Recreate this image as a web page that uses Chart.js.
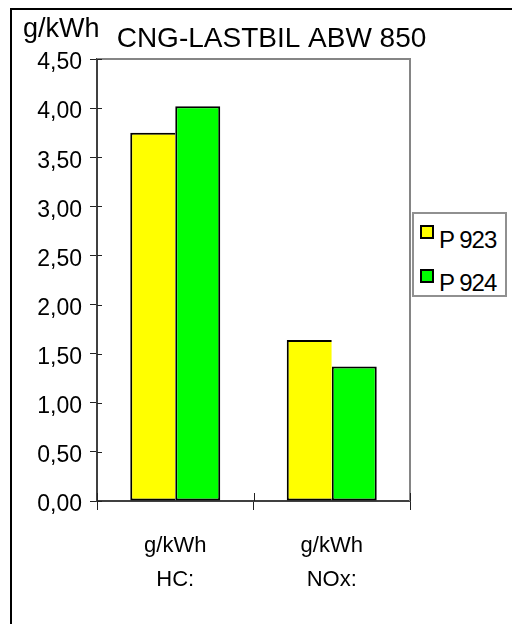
<!DOCTYPE html>
<html>
<head>
<meta charset="utf-8">
<script src="https://cdn.jsdelivr.net/npm/chart.js@4.4.1/dist/chart.umd.min.js"></script>
<style>
  html, body { margin: 0; padding: 0; background: #fff; }
  #wrap { position: relative; width: 512px; height: 624px; overflow: hidden; font-family: "Liberation Sans", Arial, sans-serif; }
  #frame { position: absolute; left: 10px; top: 8px; width: 600px; height: 700px; border-top: 2px solid #000; border-left: 2px solid #000; }
  #chart { position: absolute; left: 0; top: 0; }
  #legend { position: absolute; left: 412px; top: 212px; width: 95px; height: 85px; box-sizing: border-box; border: 2px solid #909090; background: #fff; }
  .sw { position: absolute; width: 14px; height: 14px; box-sizing: border-box; border: 2px solid #000; }
  .lt { position: absolute; font-size: 24px; line-height: 24px; letter-spacing: -1px; color: #000; white-space: nowrap; }
</style>
</head>
<body>
<div id="wrap">
  <div id="frame"></div>
  <canvas id="chart" width="512" height="624"></canvas>
  <div id="legend"></div>
</div>
<script>
const categories = [['g/kWh', 'HC:'], ['g/kWh', 'NOx:']];
const seriesNames = ['P 923', 'P 924'];
const seriesColors = ['#ffff00', '#00ff00'];
const p923 = [3.75, 1.64];
const p924 = [4.02, 1.37];
const yMin = 0;
const yMax = 4.5;
const yStep = 0.5;
const chartTitle = 'CNG-LASTBIL ABW 850';
const unitLabel = 'g/kWh';

Chart.defaults.font.family = '"Liberation Sans", Arial, sans-serif';
Chart.defaults.color = '#000';

const formatTick = (value) => Number(value).toFixed(2).replace('.', ',');

// frame of the plot area, inner tick halves, title and unit
const framePlugin = {
  id: 'frame',
  afterDraw(chart) {
    const { ctx, chartArea } = chart;
    const { left, right, top, bottom } = chartArea;
    const xScale = chart.scales.x;
    const yScale = chart.scales.y;
    ctx.save();

    ctx.strokeStyle = '#858585';
    ctx.lineWidth = 2;
    ctx.beginPath();
    ctx.moveTo(left, top);
    ctx.lineTo(right, top);
    ctx.lineTo(right, bottom);
    ctx.stroke();

    ctx.strokeStyle = '#222';
    ctx.lineWidth = 1;
    ctx.beginPath();
    yScale.ticks.forEach((t, i) => {
      const y = Math.round(yScale.getPixelForTick(i)) + 0.5;
      ctx.moveTo(left, y);
      ctx.lineTo(left + 5, y);
    });
    const n = xScale.ticks.length;
    const bounds = [left];
    for (let i = 0; i < n - 1; i++) {
      bounds.push((xScale.getPixelForTick(i) + xScale.getPixelForTick(i + 1)) / 2);
    }
    bounds.push(right);
    bounds.forEach((bx) => {
      const x = Math.round(bx) + 0.5;
      ctx.moveTo(x, bottom);
      ctx.lineTo(x, bottom - 8);
    });
    ctx.stroke();

    ctx.fillStyle = '#000';
    ctx.textBaseline = 'alphabetic';
    ctx.font = '28px "Liberation Sans", Arial, sans-serif';
    ctx.textAlign = 'center';
    ctx.fillText(chartTitle, 271.5, 47);
    ctx.font = '27px "Liberation Sans", Arial, sans-serif';
    ctx.textAlign = 'left';
    ctx.fillText(unitLabel, 23, 37);
    ctx.restore();
  },
};

const chart = new Chart(document.getElementById('chart'), {
  type: 'bar',
  data: {
    labels: categories,
    datasets: [
      {
        label: seriesNames[0],
        data: p923,
        backgroundColor: seriesColors[0],
        borderColor: '#000',
        borderWidth: 2,
        borderSkipped: 'right',
      },
      {
        label: seriesNames[1],
        data: p924,
        backgroundColor: seriesColors[1],
        borderColor: '#000',
        borderWidth: 2,
        borderSkipped: false,
      },
    ],
  },
  options: {
    responsive: false,
    animation: false,
    layout: { padding: { top: 59, right: 102, left: 0, bottom: 0 } },
    plugins: {
      legend: { display: false },
      title: { display: false },
      tooltip: { enabled: false },
    },
    datasets: {
      bar: { barPercentage: 1, categoryPercentage: 0.575 },
    },
    scales: {
      x: {
        afterFit: (scale) => { scale.height = 123; },
        grid: { display: true, drawOnChartArea: false, drawTicks: true, tickLength: 9, color: '#222', offset: true },
        border: { display: true, color: '#404040', width: 2 },
        ticks: { font: { size: 22, lineHeight: '34px' }, padding: 19, maxRotation: 0, autoSkip: false },
      },
      y: {
        min: yMin,
        max: yMax,
        afterFit: (scale) => { scale.width = 97; },
        grid: { display: true, drawOnChartArea: false, drawTicks: true, tickLength: 7, color: '#222' },
        border: { display: true, color: '#404040', width: 2 },
        ticks: { stepSize: yStep, callback: formatTick, font: { size: 23 }, padding: 8, labelOffset: 4 },
      },
    },
  },
  plugins: [framePlugin],
});

// legend box built from the datasets
const legendEl = document.getElementById('legend');
const swatchTops = [11, 55];
const textTops = [14, 57];
chart.data.datasets.forEach((ds, i) => {
  const sw = document.createElement('div');
  sw.className = 'sw';
  sw.style.left = '6px';
  sw.style.top = `${swatchTops[i]}px`;
  sw.style.background = ds.backgroundColor;
  const lt = document.createElement('div');
  lt.className = 'lt';
  lt.style.left = '25px';
  lt.style.top = `${textTops[i]}px`;
  lt.textContent = ds.label;
  legendEl.appendChild(sw);
  legendEl.appendChild(lt);
});
</script>
</body>
</html>
